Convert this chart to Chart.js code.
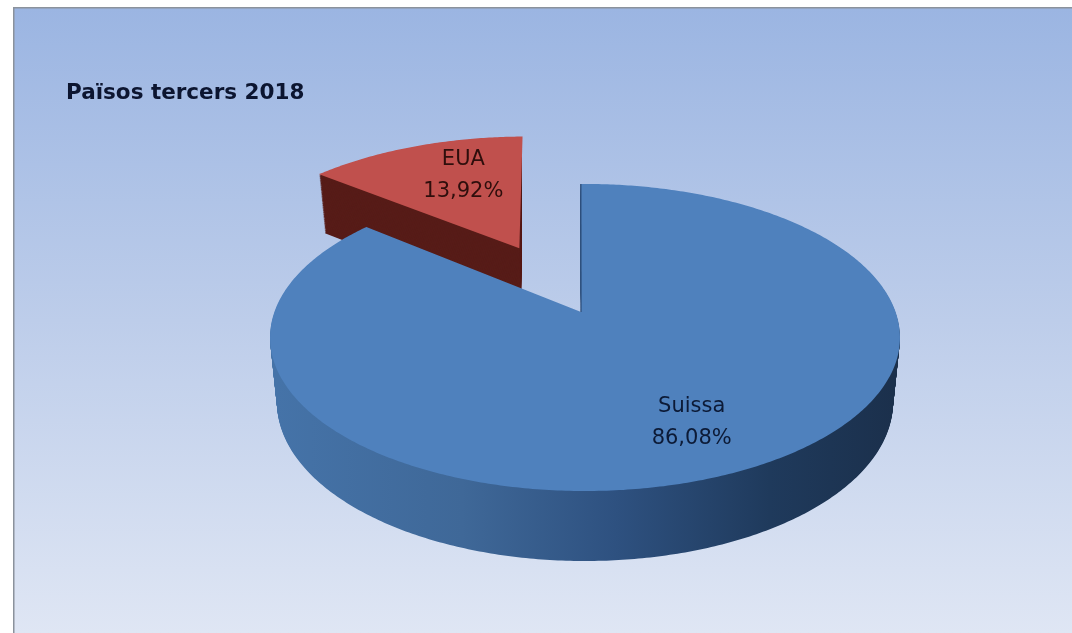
<!DOCTYPE html>
<html><head><meta charset="utf-8">
<style>html,body{margin:0;padding:0;background:#fff}canvas{display:block;filter:blur(0.4px)}</style>
<script src="https://cdn.jsdelivr.net/npm/chart.js@4"></script>
</head><body>
<div style="width:1072px;height:633px"><canvas id="c" width="1072" height="633"></canvas></div>
<script>
const categories = ['Suissa', 'EUA'];
const shares = [86.08, 13.92];
const shareLabels = ['86,08%', '13,92%'];
const topColours = ['#4f81bd', '#c0504d'];
const chartTitle = 'Països tercers 2018';
const explode = [0, 0.512];

// perspective view of the pie's disc
const view = {cx:585, cy:312, rx:310.6, ry:149.3, k:0.166};
function project(theta, r, e, mid, dx){
  const u = r*Math.cos(theta) + e*Math.cos(mid);
  const v = -r*Math.sin(theta) - e*Math.sin(mid);
  const w = 1 + view.k*v;
  return {x: view.cx + dx + view.rx*u/w, y: view.cy - view.ry*v/w};
}
function sink(p, d){
  const depth = 59 + (p.y-173)*11/318;
  return {x: view.cx + (p.x-view.cx)*(1-0.022*d), y: p.y + depth*d};
}
function slicePath(ctx, el, e, apexDx, rimDx, d){
  const mid = (el.startAngle+el.endAngle)/2;
  const n = Math.ceil((el.endAngle-el.startAngle)*90);
  ctx.beginPath();
  const a = sink(project(0,0,e,mid,apexDx), d);
  ctx.moveTo(a.x,a.y);
  for(let i=0;i<=n;i++){
    const t = el.startAngle+(el.endAngle-el.startAngle)*i/n;
    const p = sink(project(t,1,e,mid,rimDx), d);
    ctx.lineTo(p.x,p.y);
  }
  ctx.closePath();
}
const pie3d = {
  id:'pie3d',
  beforeDraw(chart){
    const ctx = chart.ctx, W = chart.width, H = chart.height;
    ctx.save();
    const g = ctx.createLinearGradient(0,8,0,H);
    g.addColorStop(0,'#9bb5e2');
    g.addColorStop(0.5,'#bdcdea');
    g.addColorStop(1,'#dfe6f4');
    ctx.fillStyle = '#fff'; ctx.fillRect(0,0,W,H);
    ctx.fillStyle = g; ctx.fillRect(14,8,W-14,H-8);
    ctx.fillStyle = '#8b929c';
    ctx.fillRect(13,7,W-13,1.5); ctx.fillRect(13,7,1.5,H-7);
    ctx.restore();
  },
  beforeDatasetsDraw(chart){
    const ctx = chart.ctx, arcs = chart.getDatasetMeta(0).data;
    ctx.save();
    const wallB = ctx.createLinearGradient(277,0,893,0);
    wallB.addColorStop(0,'#4573a8');
    wallB.addColorStop(0.3,'#3f6898');
    wallB.addColorStop(0.55,'#2e5180');
    wallB.addColorStop(0.8,'#1f3a5c');
    wallB.addColorStop(1,'#1b304c');
    const walls = [wallB, '#571c18'];
    const order = [1,0];
    order.forEach(i=>{
      const el = arcs[i];
      const apexDx = i===0 ? -4 : -1, rimDx = i===0 ? 0 : -2.5;
      ctx.save();
      if(i===1){ ctx.beginPath(); ctx.rect(0,0,521.5,chart.height); ctx.clip(); }
      ctx.fillStyle = walls[i];
      for(let s=70;s>=1;s--){
        slicePath(ctx, el, explode[i], apexDx, rimDx, s/70);
        ctx.fill();
      }
      ctx.restore();
      slicePath(ctx, el, explode[i], apexDx, rimDx, 0);
      ctx.fillStyle = topColours[i];
      ctx.fill();
      if(i===0){
        const a = project(0,0,0,0,apexDx), b = project(el.startAngle,1,0,0,0);
        ctx.strokeStyle='#2a4a75'; ctx.lineWidth=1.2;
        ctx.beginPath(); ctx.moveTo(a.x,a.y); ctx.lineTo(b.x,b.y); ctx.stroke();
      }
    });
    // labels
    ctx.font = '21px "DejaVu Sans"';
    ctx.textAlign='center'; ctx.textBaseline='middle';
    const labelR = [0.72,0.63], inks = ['#0c1a36','#2e0e0c'], nudgeX = [-3,11], nudgeY = [2,-5];
    arcs.forEach((el,i)=>{
      const mid = (el.startAngle+el.endAngle)/2;
      const p = project(mid,labelR[i],explode[i],mid,0);
      ctx.fillStyle = inks[i];
      ctx.fillText(categories[i], p.x+nudgeX[i], p.y+nudgeY[i]-16);
      ctx.fillText(shareLabels[i], p.x+nudgeX[i], p.y+nudgeY[i]+16);
    });
    ctx.restore();
    return false;
  }
};
new Chart(document.getElementById('c'),{
  type:'pie',
  data:{labels:categories,datasets:[{data:shares,backgroundColor:topColours,borderWidth:0}]},
  plugins:[pie3d],
  options:{
    responsive:false,animation:false,
    rotation:-0.9,
    layout:{padding:{left:66,top:0}},
    plugins:{
      legend:{display:false},tooltip:{enabled:false},
      title:{display:true,text:chartTitle,align:'start',color:'#0c1530',
        font:{family:'"DejaVu Sans"',size:21.5,weight:'bold'},padding:{top:81,bottom:0}}
    }
  }
});
</script>
</body></html>
